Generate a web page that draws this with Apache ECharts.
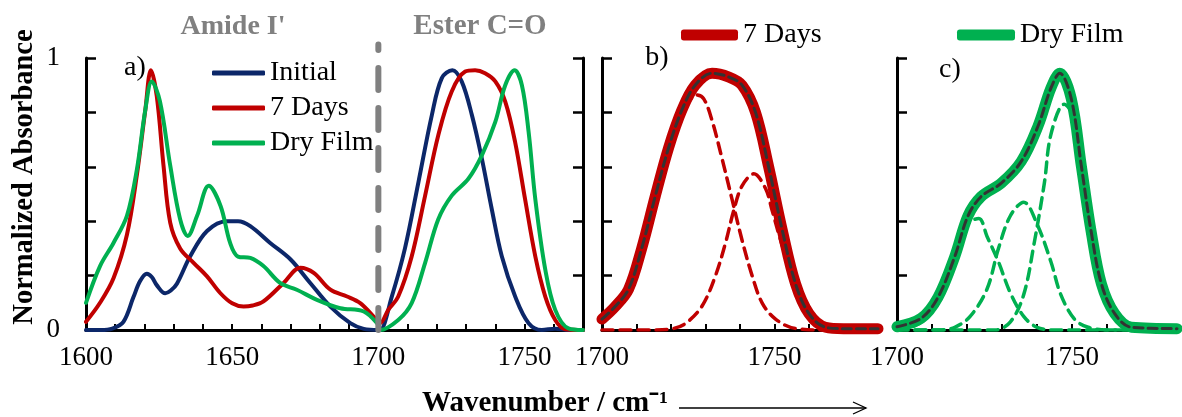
<!DOCTYPE html>
<html>
<head>
<meta charset="utf-8">
<script src="https://cdn.jsdelivr.net/npm/echarts@6/dist/echarts.min.js"></script>
<style>
html,body{margin:0;padding:0;background:#fff;}
#chart{width:1182px;height:417px;}
</style>
</head>
<body>
<div id="chart"></div>
<script>
// ---------- DATA (wavenumber, normalized absorbance) ----------
// Panel a) full spectra
const aInitial = [[1600,0],[1605,0],[1609,0.005],[1612.8,0.03],[1616.2,0.12],[1618.5,0.18],[1620.8,0.207],[1622.5,0.195],[1624.2,0.165],[1627.1,0.135],[1629,0.145],[1631.1,0.17],[1635.6,0.27],[1641.4,0.364],[1648.2,0.40],[1652,0.40],[1656.2,0.382],[1663,0.32],[1669.9,0.26],[1676.7,0.173],[1683.6,0.086],[1690.4,0.025],[1695,0.004],[1700,0],
  [1700.6,0],[1704.6,0.123],[1709.1,0.30],[1713.7,0.543],[1718.3,0.79],[1721.7,0.926],[1725.3,0.955],[1728.5,0.914],[1732,0.79],[1735.4,0.63],[1738.8,0.444],[1742.2,0.272],[1746.8,0.123],[1751.4,0.025],[1755.9,0],[1760.5,0.005],[1765,0],[1770,0]];
const a7Days = [[1600,0.03],[1604.8,0.10],[1609.4,0.19],[1614,0.35],[1617.4,0.57],[1620.3,0.81],[1622.2,0.955],[1624.2,0.86],[1626.5,0.606],[1628.8,0.395],[1632.2,0.30],[1636.8,0.247],[1641.4,0.197],[1645.9,0.136],[1650,0.098],[1653.9,0.086],[1657,0.09],[1660.7,0.105],[1667.6,0.173],[1673.3,0.229],[1677.9,0.21],[1683.6,0.148],[1689.3,0.123],[1693.8,0.099],[1697.3,0.062],[1700,0.03],
  [1700.6,0.025],[1703.4,0.074],[1706.8,0.123],[1711.4,0.27],[1716,0.494],[1720.5,0.716],[1725.1,0.877],[1729.7,0.95],[1733.1,0.955],[1736.5,0.944],[1740,0.914],[1743.4,0.84],[1746.8,0.69],[1750.2,0.48],[1753.7,0.27],[1757.1,0.123],[1760.5,0.037],[1763.9,0.003],[1770,0]];
const aDryFilm = [[1600,0.10],[1604.8,0.235],[1609.4,0.32],[1614,0.42],[1617.4,0.59],[1620.3,0.81],[1622.5,0.914],[1625.3,0.84],[1628.8,0.605],[1632.2,0.407],[1634.8,0.346],[1638,0.42],[1642,0.53],[1646,0.457],[1649.3,0.32],[1652,0.27],[1656.2,0.265],[1660.7,0.235],[1666.4,0.173],[1672.1,0.148],[1679,0.111],[1687,0.08],[1695,0.068],[1700,0.019],
  [1700.6,0],[1706.8,0.037],[1711.4,0.099],[1716,0.247],[1720.5,0.407],[1725.1,0.494],[1730.8,0.556],[1735.4,0.642],[1740,0.765],[1743.4,0.9],[1746.6,0.955],[1749.1,0.9],[1751.4,0.728],[1753.7,0.48],[1757.1,0.222],[1760.5,0.074],[1765,0.006],[1770,0]];
const aDivider = [[1700,0],[1700,1.05]];

// Panel b) 7 Days: measured band, fitted sum, components
const b7Days = [[1700,0.04],[1703.8,0.086],[1707.7,0.15],[1711.5,0.30],[1715.4,0.49],[1719.3,0.67],[1723.2,0.81],[1727,0.90],[1731.9,0.944],[1736.8,0.93],[1740.6,0.90],[1744.5,0.80],[1748.3,0.60],[1752.2,0.37],[1756.1,0.17],[1760,0.06],[1764.8,0.01],[1770,0.005],[1780,0.005]];
const bFit = [[1700,0.04],[1703.8,0.086],[1707.7,0.15],[1711.5,0.30],[1715.4,0.49],[1719.3,0.67],[1723.2,0.81],[1727,0.90],[1731.9,0.944],[1736.8,0.93],[1740.6,0.90],[1744.5,0.80],[1748.3,0.60],[1752.2,0.37],[1756.1,0.17],[1760,0.06],[1764.8,0.01],[1770,0.005],[1780,0.005]];
const bComp1 = [[1700,0.03],[1703.8,0.07],[1707.7,0.14],[1711.5,0.29],[1715.4,0.48],[1719.3,0.66],[1723.2,0.79],[1727.4,0.864],[1729.5,0.85],[1731.9,0.77],[1734.8,0.63],[1737.7,0.48],[1740.6,0.33],[1743.5,0.20],[1746.4,0.10],[1750.3,0.04],[1756,0.006],[1765,0],[1780,0]];
const bComp2 = [[1700,0],[1715,0],[1720.5,0.005],[1724.3,0.025],[1729.1,0.09],[1732.9,0.20],[1735.8,0.32],[1738.2,0.44],[1740.6,0.53],[1744,0.574],[1747.4,0.52],[1749.3,0.44],[1751.3,0.35],[1754,0.24],[1756.1,0.16],[1760,0.06],[1764.8,0.01],[1770,0],[1780,0]];

// Panel c) Dry Film: measured band, fitted sum, components
const cDryFilm = [[1700,0.012],[1706.9,0.043],[1711.7,0.12],[1716.5,0.27],[1720.3,0.42],[1724,0.49],[1729.8,0.54],[1735.5,0.62],[1740.3,0.75],[1744,0.89],[1746.5,0.944],[1749.8,0.85],[1752.7,0.60],[1755.5,0.36],[1758.4,0.17],[1762.2,0.06],[1767,0.01],[1780,0.005]];
const cFit = [[1700,0.012],[1706.9,0.043],[1711.7,0.12],[1716.5,0.27],[1720.3,0.42],[1724,0.49],[1729.8,0.54],[1735.5,0.62],[1740.3,0.75],[1744,0.89],[1746.5,0.944],[1749.8,0.85],[1752.7,0.60],[1755.5,0.36],[1758.4,0.17],[1762.2,0.06],[1767,0.01],[1780,0.005]];
const cComp1 = [[1700,0],[1704,0.01],[1708,0.04],[1711.7,0.11],[1716.5,0.26],[1720.3,0.39],[1723.4,0.41],[1725.7,0.345],[1729,0.25],[1732.4,0.136],[1736.2,0.05],[1740,0.01],[1745,0],[1780,0]];
const cComp2 = [[1700,0],[1712,0],[1716.5,0.01],[1720.9,0.05],[1725.7,0.15],[1729,0.30],[1732.4,0.42],[1736.2,0.47],[1740,0.39],[1744,0.25],[1746.8,0.13],[1750.7,0.04],[1754.6,0.01],[1760,0],[1780,0]];
const cComp3 = [[1700,0],[1728,0],[1732.4,0.03],[1736.2,0.13],[1739.2,0.32],[1742.1,0.54],[1744,0.72],[1747.8,0.83],[1749.8,0.80],[1752.7,0.60],[1755.5,0.36],[1758.4,0.17],[1762.2,0.06],[1767,0.01],[1780,0]];

// Tick labels
const xTickLabels = [1600, 1650, 1700, 1750];
const yTickLabels = [0, 1];

// Text
const legendA = ['Initial', '7 Days', 'Dry Film'];
const regionTitles = ["Amide I'", 'Ester C=O'];
const panelLetters = ['a)', 'b)', 'c)'];
const yTitle = 'Normalized Absorbance';
const xTitle = 'Wavenumber / cm\u207B\u00B9';

// ---------- STYLE ----------
const NAVY = '#0c2769', RED = '#c00000', GREEN = '#00b050', GRAY = '#808080', DARK = '#333333';
const SERIF = '"Liberation Serif", "Times New Roman", serif';

function xAx(gi, min, max) {
  return {
    type: 'value', gridIndex: gi, min: min, max: max, interval: 10,
    axisLine: {show: true, onZero: false, lineStyle: {color: '#000', width: 3}},
    axisTick: {show: true, inside: true, length: 6, lineStyle: {color: '#000', width: 2}},
    axisLabel: {show: true, margin: 14, color: '#000', fontFamily: SERIF, fontSize: 27,
      formatter: v => (xTickLabels.indexOf(v) >= 0 ? String(v) : '')},
    splitLine: {show: false}
  };
}
function yAx(gi, pos, labels) {
  return {
    type: 'value', gridIndex: gi, position: pos, min: 0, max: 1, interval: 0.2,
    axisLine: {show: true, lineStyle: {color: '#000', width: 3}},
    axisTick: {show: true, inside: true, length: 10, lineStyle: {color: '#000', width: 2.5}},
    axisLabel: {show: labels, margin: 26, color: '#000', fontFamily: SERIF, fontSize: 27,
      formatter: v => (yTickLabels.indexOf(v) >= 0 ? String(v) : '')},
    splitLine: {show: false}
  };
}
function line(name, data, xi, yi, color, width, dash, z) {
  return {
    type: 'line', name: name, data: data, xAxisIndex: xi, yAxisIndex: yi,
    smooth: 0.35, symbol: 'none', showSymbol: false, z: z || 2,
    lineStyle: {color: color, width: width, type: dash || 'solid', cap: 'round', join: 'round'},
    itemStyle: {color: color}, emphasis: {disabled: true}, animation: false
  };
}

const chart = echarts.init(document.getElementById('chart'), null, {renderer: 'canvas'});
const option = {
  animation: false,
  backgroundColor: '#fff',
  textStyle: {fontFamily: SERIF},
  grid: [
    {left: 86, top: 58, width: 497, height: 272, outerBoundsMode: 'none'},
    {left: 602, top: 58, width: 276, height: 272, outerBoundsMode: 'none'},
    {left: 897, top: 58, width: 280, height: 272, outerBoundsMode: 'none'}
  ],
  xAxis: [xAx(0, 1600, 1770), xAx(1, 1700, 1780), xAx(2, 1700, 1780)],
  yAxis: [yAx(0, 'left', true), yAx(0, 'right', false), yAx(1, 'left', false), yAx(2, 'left', false)],
  legend: [
    {left: 207, top: 53, orient: 'vertical', itemWidth: 53, itemHeight: 5, itemGap: 5, icon: 'roundRect',
     textStyle: {fontFamily: SERIF, fontSize: 28, color: '#000', lineHeight: 30}, selectedMode: false,
     data: [{name: legendA[0], itemStyle: {color: NAVY}}, {name: legendA[1], itemStyle: {color: RED}}, {name: legendA[2], itemStyle: {color: GREEN}}]},
    {left: 676, top: 15, itemWidth: 57, itemHeight: 11, icon: 'roundRect', selectedMode: false,
     textStyle: {fontFamily: SERIF, fontSize: 28, color: '#000', lineHeight: 30},
     data: [{name: '7 Days', itemStyle: {color: RED}}]},
    {left: 952, top: 15, itemWidth: 58, itemHeight: 11, icon: 'roundRect', selectedMode: false,
     textStyle: {fontFamily: SERIF, fontSize: 28, color: '#000', lineHeight: 30},
     data: [{name: 'Dry Film', itemStyle: {color: GREEN}}]}
  ],
  series: [
    line('Initial', aInitial, 0, 0, NAVY, 4),
    line('7 Days', a7Days, 0, 0, RED, 4),
    line('Dry Film', aDryFilm, 0, 0, GREEN, 4),
    Object.assign(line('divider', aDivider, 0, 0, GRAY, 6, [22, 18], 5), {smooth: false, clip: false}),

    line('7 Days', b7Days, 1, 2, RED, 11, 'solid', 2),
    line('b comp 1', bComp1, 1, 2, RED, 3.5, [11, 7], 3),
    line('b comp 2', bComp2, 1, 2, RED, 3.5, [11, 7], 3),
    line('b fit', bFit, 1, 2, DARK, 3, [9, 5], 4),

    line('Dry Film', cDryFilm, 2, 3, GREEN, 11, 'solid', 2),
    line('c comp 1', cComp1, 2, 3, GREEN, 3.5, [11, 7], 3),
    line('c comp 2', cComp2, 2, 3, GREEN, 3.5, [11, 7], 3),
    line('c comp 3', cComp3, 2, 3, GREEN, 3.5, [11, 7], 3),
    line('c fit', cFit, 2, 3, DARK, 3, [9, 5], 4)
  ],
  graphic: [
    {type: 'text', x: 233, y: 27, style: {text: regionTitles[0], fill: GRAY, font: 'bold 28px ' + SERIF, textAlign: 'center', textVerticalAlign: 'middle'}},
    {type: 'text', x: 480, y: 27, style: {text: regionTitles[1], fill: GRAY, font: 'bold 29px ' + SERIF, textAlign: 'center', textVerticalAlign: 'middle'}},
    {type: 'text', x: 135, y: 68, style: {text: panelLetters[0], fill: '#000', font: '28px ' + SERIF, textAlign: 'center', textVerticalAlign: 'middle'}},
    {type: 'text', x: 657, y: 58, style: {text: panelLetters[1], fill: '#000', font: '28px ' + SERIF, textAlign: 'center', textVerticalAlign: 'middle'}},
    {type: 'text', x: 950, y: 70, style: {text: panelLetters[2], fill: '#000', font: '28px ' + SERIF, textAlign: 'center', textVerticalAlign: 'middle'}},
    {type: 'text', x: 25, y: 177, rotation: Math.PI / 2, style: {text: yTitle, fill: '#000', font: 'bold 28.5px ' + SERIF, textAlign: 'center', textVerticalAlign: 'middle'}},
    {type: 'text', x: 545, y: 404, style: {text: xTitle, fill: '#000', font: 'bold 29px ' + SERIF, textAlign: 'center', textVerticalAlign: 'middle'}},
    {type: 'line', shape: {x1: 679, y1: 408, x2: 866, y2: 408}, style: {stroke: '#000', lineWidth: 1.3}},
    {type: 'polyline', shape: {points: [[853, 402], [866, 408], [853, 414]]}, style: {stroke: '#000', lineWidth: 1.3, fill: null}}
  ]
};
chart.setOption(option);
</script>
</body>
</html>
